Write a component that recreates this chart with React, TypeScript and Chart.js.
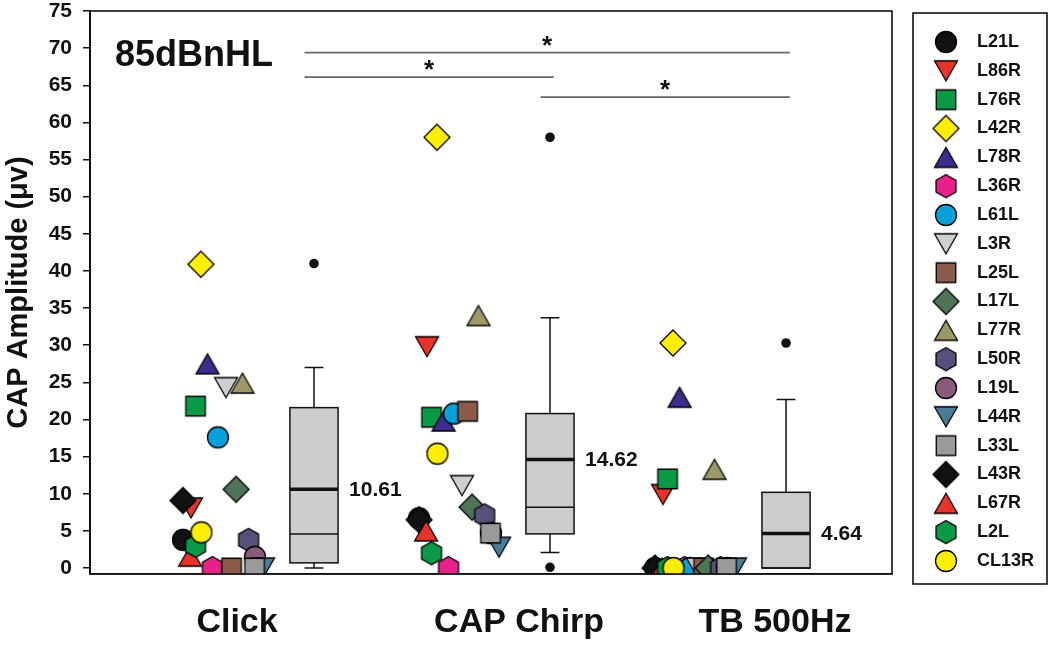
import { useEffect, useRef } from 'react';
import { Chart, registerables } from 'chart.js';

Chart.register(...registerables);

const FONT = '"Liberation Sans", Arial, Helvetica, sans-serif';

// ---- categories / groups ----
const groupNames = ['Click', 'CAP Chirp', 'TB 500Hz'];
const groupBase = [0, 1, 2];
const groupLabelX = [0.229, 1.424, 2.508];

// ---- subjects ----
const subjects = ['L21L', 'L86R', 'L76R', 'L42R', 'L78R', 'L36R', 'L61L', 'L3R', 'L25L', 'L17L', 'L77R', 'L50R', 'L19L', 'L44R', 'L33L', 'L43R', 'L67R', 'L2L', 'CL13R'];
const shapes = ['circle', 'triDown', 'square', 'diamond', 'triUp', 'hex', 'circle', 'triDown', 'square', 'diamond', 'triUp', 'hex', 'circle', 'triDown', 'square', 'diamond', 'triUp', 'hex', 'circle'];
const colors = ['#111111', '#e8322a', '#0a9a45', '#ffee00', '#3d2b8e', '#e8208a', '#0aa0dc', '#cfcfcf', '#8b5a4a', '#4e7357', '#9b9a66', '#57507a', '#8a5a7a', '#4a7c98', '#9a9a9a', '#111111', '#e8322a', '#0a9a45', '#ffee00'];
const jitter = [0, 0.034, 0.053, 0.076, 0.104, 0.125, 0.148, 0.182, 0.206, 0.225, 0.252, 0.278, 0.305, 0.339, 0.303, 0, 0.03, 0.053, 0.078];

// ---- values (µV) ----
const valuesClick = [3.8, 8.1, 21.8, 40.9, 27.5, 0, 17.6, 24.3, 0, 10.6, 24.9, 3.8, 1.5, 0, 0, 9.1, 1.6, 3.0, 4.8];
const valuesChirp = [6.7, 29.8, 20.3, 58.0, 19.8, 0, 20.8, 11.1, 21.1, 8.2, 34.0, 7.1, 4.7, 2.8, 4.7, 6.5, 5.0, 2.0, 15.4];
const valuesTB = [0, 9.9, 12.0, 30.3, 23.0, 0, 0, 0, 0, 0, 13.3, 0, 0, 0, 0, 0, 0, 0, 0];
const groupValues = [valuesClick, valuesChirp, valuesTB];

// ---- box plot summaries ----
const boxCenter = [0.555, 1.555, 2.555];
const boxQ1 = [0.7, 4.6, 0];
const boxQ3 = [21.6, 20.8, 10.2];
const boxMedian = [4.6, 8.2, 0];
const boxMean = [10.61, 14.62, 4.64];
const whiskerLow = [0, 2.1, 0];
const whiskerHigh = [27.0, 33.7, 22.7];
const outliers = [[41.0], [58.0, 0.1], [30.3]];

// ---- significance comparisons ----
const sigPairs = [[0, 2], [0, 1], [1, 2]];
const sigLevels = [69.4, 66.1, 63.4];

const yTicks = [0, 5, 10, 15, 20, 25, 30, 35, 40, 45, 50, 55, 60, 65, 70, 75];

function makeMarker(shape: string, color: string): HTMLCanvasElement {
  const c = document.createElement('canvas');
  c.width = 30;
  c.height = 30;
  const ctx = c.getContext('2d')!;
  ctx.translate(15, 15);
  ctx.beginPath();
  if (shape === 'circle') {
    ctx.arc(0, 0, 10.5, 0, Math.PI * 2);
  } else if (shape === 'square') {
    ctx.rect(-9.75, -9.75, 19.5, 19.5);
  } else if (shape === 'diamond') {
    ctx.moveTo(0, -13);
    ctx.lineTo(13, 0);
    ctx.lineTo(0, 13);
    ctx.lineTo(-13, 0);
    ctx.closePath();
  } else if (shape === 'triUp') {
    ctx.moveTo(0, -10);
    ctx.lineTo(11.5, 10);
    ctx.lineTo(-11.5, 10);
    ctx.closePath();
  } else if (shape === 'triDown') {
    ctx.moveTo(0, 10);
    ctx.lineTo(11.5, -10);
    ctx.lineTo(-11.5, -10);
    ctx.closePath();
  } else if (shape === 'hex') {
    const R = 11.5;
    for (let k = 0; k < 6; k++) {
      const a = (-90 + 60 * k) * Math.PI / 180;
      const px = R * Math.cos(a);
      const py = R * Math.sin(a);
      if (k === 0) ctx.moveTo(px, py); else ctx.lineTo(px, py);
    }
    ctx.closePath();
  }
  ctx.fillStyle = color;
  ctx.fill();
  ctx.lineWidth = 1.3;
  ctx.strokeStyle = '#000';
  ctx.stroke();
  return c;
}

export default function App() {
  const ref = useRef<HTMLCanvasElement | null>(null);

  useEffect(() => {
    if (!ref.current) return;
    const markers = subjects.map((_, i) => makeMarker(shapes[i], colors[i]));

    const datasets = subjects.map((name, i) => ({
      label: name,
      data: groupBase.map((g, gi) => ({ x: g + jitter[i], y: groupValues[gi][i] })),
      pointStyle: markers[i] as any,
      pointRadius: 10,
      showLine: false,
      order: subjects.length - i,
    }));

    const customPlugin = {
      id: 'customDraw',
      beforeDraw(chart: any) {
        const ctx = chart.ctx;
        ctx.save();
        ctx.fillStyle = '#ffffff';
        ctx.fillRect(0, 0, chart.width, chart.height);
        ctx.restore();
      },
      beforeDatasetsDraw(chart: any) {
        const ctx = chart.ctx;
        const xs = chart.scales.x;
        const ys = chart.scales.y;
        ctx.save();
        for (let g = 0; g < boxCenter.length; g++) {
          const cx = xs.getPixelForValue(boxCenter[g]);
          const half = xs.getPixelForValue(boxCenter[g] + 0.102) - cx;
          const cap = xs.getPixelForValue(boxCenter[g] + 0.04) - cx;
          const yQ1 = ys.getPixelForValue(boxQ1[g]);
          const yQ3 = ys.getPixelForValue(boxQ3[g]);
          const yLo = ys.getPixelForValue(whiskerLow[g]);
          const yHi = ys.getPixelForValue(whiskerHigh[g]);
          ctx.strokeStyle = '#111';
          ctx.lineWidth = 1.5;
          ctx.beginPath();
          ctx.moveTo(cx, yQ3);
          ctx.lineTo(cx, yHi);
          ctx.moveTo(cx - cap, yHi);
          ctx.lineTo(cx + cap, yHi);
          if (whiskerLow[g] < boxQ1[g]) {
            ctx.moveTo(cx, yQ1);
            ctx.lineTo(cx, yLo);
            ctx.moveTo(cx - cap, yLo);
            ctx.lineTo(cx + cap, yLo);
          }
          ctx.stroke();
          ctx.fillStyle = '#cdcdcd';
          ctx.fillRect(cx - half, yQ3, half * 2, yQ1 - yQ3);
          ctx.strokeRect(cx - half, yQ3, half * 2, yQ1 - yQ3);
          ctx.beginPath();
          ctx.lineWidth = 1.5;
          const yMed = ys.getPixelForValue(boxMedian[g]);
          ctx.moveTo(cx - half, yMed);
          ctx.lineTo(cx + half, yMed);
          ctx.stroke();
          ctx.beginPath();
          ctx.lineWidth = 3.5;
          const yMean = ys.getPixelForValue(boxMean[g]);
          ctx.moveTo(cx - half, yMean);
          ctx.lineTo(cx + half, yMean);
          ctx.stroke();
          ctx.fillStyle = '#111';
          ctx.font = `bold 21px ${FONT}`;
          ctx.textAlign = 'left';
          ctx.textBaseline = 'middle';
          ctx.fillText(boxMean[g].toFixed(2), cx + half + 11, yMean + 1);
          for (const v of outliers[g]) {
            ctx.beginPath();
            ctx.arc(cx, ys.getPixelForValue(v), 4.8, 0, Math.PI * 2);
            ctx.fillStyle = '#111';
            ctx.fill();
          }
        }
        ctx.restore();
      },
      afterDraw(chart: any) {
        const ctx = chart.ctx;
        const xs = chart.scales.x;
        const ys = chart.scales.y;
        const area = chart.chartArea;
        ctx.save();
        ctx.strokeStyle = '#111';
        ctx.lineWidth = 1.6;
        ctx.strokeRect(area.left, area.top, area.right - area.left, area.bottom - area.top);
        ctx.strokeStyle = '#666';
        ctx.lineWidth = 1.6;
        ctx.fillStyle = '#111';
        ctx.font = `bold 26px ${FONT}`;
        ctx.textAlign = 'center';
        ctx.textBaseline = 'alphabetic';
        sigPairs.forEach(([a, b], k) => {
          const x1 = xs.getPixelForValue(boxCenter[a] - 0.04);
          const x2 = xs.getPixelForValue(boxCenter[b] + 0.016);
          const y = ys.getPixelForValue(sigLevels[k]);
          ctx.beginPath();
          ctx.moveTo(x1, y);
          ctx.lineTo(x2, y);
          ctx.stroke();
          ctx.fillText('*', (x1 + x2) / 2, y + 1);
        });
        ctx.font = `bold 36px ${FONT}`;
        ctx.textAlign = 'left';
        ctx.fillStyle = '#111';
        ctx.fillText('85dBnHL', area.left + 25, area.top + 55);
        const lx = area.right + 21;
        const ly = 13;
        ctx.lineWidth = 1.6;
        ctx.strokeStyle = '#111';
        ctx.strokeRect(lx, ly, 134, 571);
        ctx.font = `bold 18px ${FONT}`;
        ctx.textBaseline = 'middle';
        subjects.forEach((name, i) => {
          const y = 42 + i * 28.83;
          ctx.drawImage(markers[i], lx + 33 - 15, y - 15);
          ctx.fillStyle = '#111';
          ctx.fillText(name, lx + 64, y);
        });
        ctx.restore();
      },
    };

    const chart = new Chart(ref.current, {
      type: 'scatter',
      data: { datasets: datasets as any },
      options: {
        animation: false,
        responsive: false,
        layout: { padding: { top: 10, right: 158, left: 0, bottom: 0 } },
        plugins: { legend: { display: false }, tooltip: { enabled: false } },
        scales: {
          x: {
            type: 'linear',
            position: 'bottom',
            min: -0.394,
            max: 3.004,
            afterBuildTicks: (s: any) => {
              s.ticks = groupLabelX.map((v) => ({ value: v }));
            },
            afterFit: (s: any) => {
              s.height = 72;
              s.paddingLeft = 0;
              s.paddingRight = 0;
            },
            ticks: {
              autoSkip: false,
              maxRotation: 0,
              padding: 28,
              color: '#111',
              font: { family: FONT, size: 34, weight: 'bold' },
              callback: (_v: any, i: number) => groupNames[i],
            },
            grid: { drawOnChartArea: false, drawTicks: false },
            border: { display: true, color: '#111', width: 1.6 },
          },
          y: {
            type: 'linear',
            position: 'left',
            min: -0.8,
            max: 75,
            afterBuildTicks: (s: any) => {
              s.ticks = yTicks.map((v) => ({ value: v }));
            },
            afterFit: (s: any) => {
              s.width = 90;
              s.paddingTop = 0;
              s.paddingBottom = 0;
            },
            ticks: {
              padding: 11,
              color: '#111',
              font: { family: FONT, size: 21, weight: 'bold' },
            },
            grid: { drawOnChartArea: false, drawTicks: true, tickLength: 7, color: '#111', lineWidth: 1.5 },
            border: { display: true, color: '#111', width: 2 },
            title: {
              display: true,
              text: 'CAP Amplitude (\u03bcv)',
              color: '#111',
              padding: { top: 2, bottom: 0 },
              font: { family: FONT, size: 29, weight: 'bold' },
            },
          },
        },
      },
      plugins: [customPlugin],
    });

    return () => chart.destroy();
  }, []);

  return (
    <div style={{ position: 'fixed', left: 0, top: 0, width: 1050, height: 646, background: '#fff' }}>
      <canvas ref={ref} width={1050} height={646} style={{ display: 'block', width: 1050, height: 646 }} />
    </div>
  );
}
